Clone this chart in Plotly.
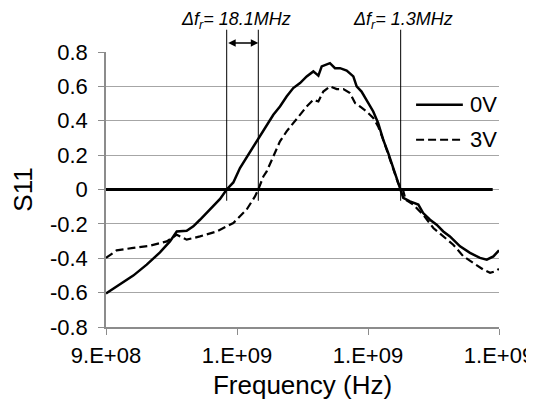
import plotly.graph_objects as go

# ---------------- data ----------------
freq_0v_mhz = [900.0, 908.0, 915.6, 923.3, 930.9, 936.6, 940.5, 946.2, 950.0, 953.8,
               959.5, 965.3, 969.1, 972.9, 976.7, 984.3, 988.2, 992.0, 995.8, 999.6,
               1003.4, 1007.2, 1011.1, 1014.9, 1018.7, 1021.6, 1023.5, 1028.2, 1031.1, 1034.0,
               1037.8, 1041.6, 1043.5, 1046.3, 1049.2, 1053.0, 1055.8, 1058.7, 1061.6, 1064.5,
               1067.3, 1068.7, 1070.2, 1074.0, 1078.8, 1081.6, 1085.5, 1089.3, 1093.1, 1096.9,
               1102.7, 1108.4, 1114.1, 1118.0, 1121.8, 1125.0]
s11_0v = [-0.605, -0.553, -0.501, -0.437, -0.366, -0.302, -0.244, -0.240, -0.214, -0.176,
          -0.117, -0.055, 0.0, 0.041, 0.125, 0.25, 0.309, 0.377, 0.435, 0.483,
          0.541, 0.590, 0.619, 0.658, 0.687, 0.662, 0.716, 0.735, 0.706, 0.706,
          0.692, 0.658, 0.60, 0.570, 0.522, 0.454, 0.387, 0.290, 0.212, 0.125,
          0.038, 0.0, -0.049, -0.069, -0.088, -0.137, -0.176, -0.205, -0.244, -0.273,
          -0.331, -0.369, -0.398, -0.408, -0.389, -0.354]

freq_3v_mhz = [900.0, 906.1, 915.6, 925.2, 934.8, 940.5, 946.2, 953.8, 963.4, 972.9,
               980.5, 985.3, 987.2, 990.1, 992.0, 995.8, 999.6, 1003.4, 1007.2, 1011.1,
               1014.9, 1018.7, 1021.6, 1024.4, 1028.2, 1032.1, 1035.9, 1039.7, 1042.6, 1045.4,
               1049.2, 1053.0, 1055.8, 1058.7, 1061.6, 1064.5, 1067.3, 1070.0, 1071.5, 1075.9,
               1081.6, 1087.4, 1093.1, 1098.8, 1104.6, 1110.3, 1116.0, 1119.9, 1122.7, 1125.0]
s11_3v = [-0.398, -0.354, -0.34, -0.327, -0.302, -0.263, -0.292, -0.273, -0.244, -0.195,
          -0.117, -0.040, 0.0, 0.076, 0.105, 0.192, 0.28, 0.338, 0.387, 0.435,
          0.483, 0.522, 0.512, 0.570, 0.60, 0.584, 0.584, 0.561, 0.503, 0.483,
          0.454, 0.416, 0.367, 0.29, 0.205, 0.12, 0.035, 0.0, -0.06, -0.088,
          -0.147, -0.224, -0.273, -0.321, -0.389, -0.427, -0.466, -0.485, -0.476, -0.462]

zero_line_mhz = [900.0, 1121.4]
zero_line_val = [0.0, 0.0]

crossing_mhz = [969.1, 987.2, 1068.7]
delta_label_mhz = [974.4, 1070.3]
delta_labels = ["<i>Δf<sub>r</sub>= 18.1MHz</i>", "<i>Δf<sub>r</sub>= 1.3MHz</i>"]

series_names = ["0V", "3V"]

x_tick_mhz = [900, 975, 1050, 1125]
x_tick_text = ["9.E+08", "1.E+09", "1.E+09", "1.E+09"]
y_tick_vals = [-0.8, -0.6, -0.4, -0.2, 0, 0.2, 0.4, 0.6, 0.8]
y_tick_text = ["-0.8", "-0.6", "-0.4", "-0.2", "0", "0.2", "0.4", "0.6", "0.8"]

MHZ = 1e6
FONT = "Liberation Sans, Arial, sans-serif"
DASH = "8px,4px"
series_styles = [dict(color="black", width=2.5), dict(color="black", width=2.2, dash=DASH)]

fig = go.Figure()

fig.add_trace(go.Scatter(
    x=[f * MHZ for f in zero_line_mhz], y=zero_line_val, mode="lines",
    line=dict(color="black", width=3), showlegend=False, hoverinfo="skip"))

fig.add_trace(go.Scatter(
    x=[f * MHZ for f in freq_0v_mhz], y=s11_0v, mode="lines", name=series_names[0],
    line=series_styles[0], showlegend=False))

fig.add_trace(go.Scatter(
    x=[f * MHZ for f in freq_3v_mhz], y=s11_3v, mode="lines", name=series_names[1],
    line=series_styles[1], showlegend=False))

shapes = []
for c in crossing_mhz:
    shapes.append(dict(type="line", xref="x", yref="paper", x0=c * MHZ, x1=c * MHZ,
                       y0=0.459, y1=1.081, line=dict(color="black", width=1)))

annotations = [
    dict(x=crossing_mhz[1] * MHZ, y=1.033, xref="x", yref="paper",
         ax=crossing_mhz[0] * MHZ, ay=0, axref="x", ayref="pixel",
         text="", showarrow=True, arrowhead=2, arrowside="end+start",
         arrowsize=1, arrowwidth=1.5, arrowcolor="black", standoff=0, startstandoff=0),
]
for xm, t in zip(delta_label_mhz, delta_labels):
    annotations.append(dict(x=xm * MHZ, y=1.116, xref="x", yref="paper", text=t,
                            showarrow=False, xanchor="center", yanchor="middle",
                            font=dict(family=FONT, size=18, color="black")))

# legend drawn as key lines + labels (long key lines like the original)
legend_rows = [0.808, 0.681]
for name, style, ly in zip(series_names, series_styles, legend_rows):
    shapes.append(dict(type="line", xref="paper", yref="paper", x0=0.789, x1=0.908,
                       y0=ly, y1=ly, line=style))
    annotations.append(dict(x=0.922, y=ly, xref="paper", yref="paper", text=name,
                            showarrow=False, xanchor="left", yanchor="middle",
                            font=dict(family=FONT, size=22, color="black")))

fig.update_layout(
    width=526, height=397,
    margin=dict(l=98, r=35, t=44, b=78, autoexpand=False),
    paper_bgcolor="white", plot_bgcolor="white",
    font=dict(family=FONT, size=22, color="black"),
    shapes=shapes, annotations=annotations,
    showlegend=False,
    xaxis=dict(range=[x_tick_mhz[0] * MHZ, x_tick_mhz[-1] * MHZ],
               tickvals=[v * MHZ for v in x_tick_mhz], ticktext=x_tick_text,
               showgrid=False, zeroline=False, showline=True, linecolor="#8c8c8c",
               linewidth=1.5, ticks="outside", ticklen=6, tickcolor="#8c8c8c",
               ticklabelstandoff=2, ticklabeloverflow="allow", automargin=False,
               title=dict(text="Frequency (Hz)", standoff=9)),
    yaxis=dict(range=[-0.8, 0.8], tickvals=y_tick_vals, ticktext=y_tick_text,
               showgrid=True, gridcolor="#a6a6a6", gridwidth=1.2, zeroline=False,
               showline=True, linecolor="#8c8c8c", linewidth=1.5,
               ticks="outside", ticklen=6, tickcolor="#8c8c8c",
               ticklabelstandoff=6, automargin=False,
               title=dict(text="S11", standoff=14)),
)

fig.write_html("out.html")
